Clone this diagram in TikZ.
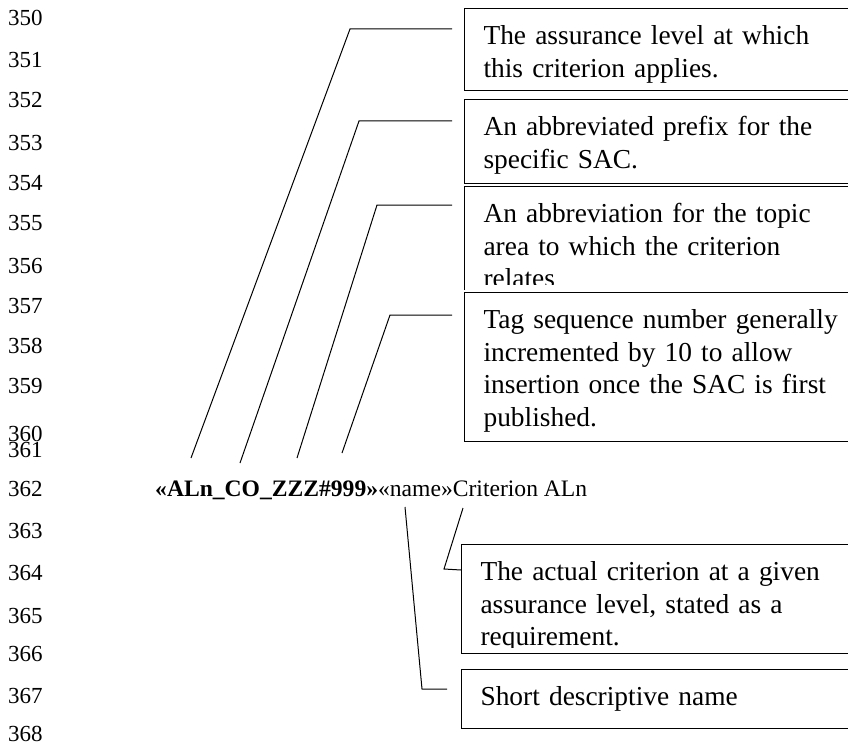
\documentclass[tikz,border=0pt]{standalone}
\usepackage{fontspec}
\setmainfont{Liberation Serif}
\usepackage{tikz}
\usetikzlibrary{calc}

\tikzset{
  note/.style={draw, line width=1.1pt, anchor=north west, align=left, text width=380pt,
    inner xsep=19pt, inner ysep=0pt, text height=36pt, font=\fontsize{27.4}{32.5}\selectfont},
  lead/.style={line width=1pt},
  lineno/.style={anchor=base west, inner sep=0pt, font=\fontsize{23}{23}\selectfont}
}

\begin{document}
\begin{tikzpicture}[x=1pt, y=-1pt]
		\useasboundingbox (0,0) rectangle (848,749);
		% line numbers of the page
		\foreach \n/\y in {350/26, 351/68, 352/108, 353/150, 354/190, 355/230, 356/273, 357/313, 358/353,
		                   359/393, 360/441, 361/457, 362/496, 363/538, 364/580, 365/623, 366/661, 367/703, 368/741}
		  \node[lineno] (n\n) at (8,\y) {\n};
		% the tag line
		\node[anchor=base west, inner sep=0pt, font=\fontsize{23.6}{23.6}\selectfont] (tag) at (155,496)
		  {\textbf{«ALn\_CO\_ZZZ\#999»}«name»Criterion ALn};
		% explanation boxes
		\node[note, text depth=46pt]  (lvl)    at (464,8)   {The assurance level at which\\this criterion applies.};
		\node[note, text depth=48pt]  (prefix) at (464,99)  {An abbreviated prefix for the\\specific SAC.};
		\node[note, text depth=67pt]  (topic)  at (464,186) {An abbreviation for the topic\\area to which the criterion\\relates};
		\node[note, text depth=113pt] (seqno)  at (464,292) {Tag sequence number generally\\incremented by 10 to allow\\insertion once the SAC is first\\published.};
		\node[note, text depth=72pt]  (crit)   at (461,544) {The actual criterion at a given\\assurance level, stated as a\\requirement.};
		\node[note, text depth=23pt]  (shortname) at (461,669) {Short descriptive name};
		% text is cut off at the inner margin of two boxes
		\fill[white] ($(topic.south west)+(0.6,-5)$) rectangle ($(topic.south east)+(0,-0.6)$);
		\fill[white] ($(crit.south west)+(0.6,-5)$) rectangle ($(crit.south east)+(0,8)$);
		\draw[line width=1.1pt] (crit.south west) -- (crit.south east);
		% leaders
		\draw[lead] ($(lvl.north west)+(-12,21)$)    -- ++(-102,0) -- ($(tag.base west)+(36,-38)$);
		\draw[lead] ($(prefix.north west)+(-12,22)$) -- ++(-93,0)  -- ($(tag.base west)+(85,-33)$);
		\draw[lead] ($(topic.north west)+(-12,19)$)  -- ++(-75,0)  -- ($(tag.base west)+(142,-38)$);
		\draw[lead] ($(seqno.north west)+(-12,23)$)  -- ++(-62,0)  -- ($(tag.base west)+(187,-43)$);
		\draw[lead] ($(tag.base west)+(308,12)$) -- ($(crit.north west)+(-17,25)$) -- ($(crit.north west)+(0,26)$);
		\draw[lead] ($(tag.base west)+(250,11)$) -- ($(shortname.north west)+(-39,20)$) -- ($(shortname.north west)+(-14,20)$);
\end{tikzpicture}
\end{document}
